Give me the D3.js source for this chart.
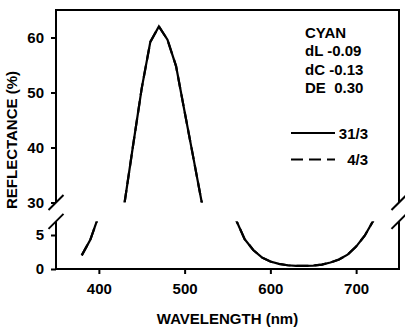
<!DOCTYPE html>
<html>
<head>
<meta charset="utf-8">
<title>Cyan reflectance</title>
<script src="https://d3js.org/d3.v7.min.js"></script>
<style>
  body { margin:0; background:#fff; }
  text { font-family: Arial, "Liberation Sans", sans-serif; font-weight:bold; font-size:15px; fill:#000; }
  .frame { stroke:#000; stroke-width:2px; fill:none; }
  .curve { fill:none; stroke:#000; stroke-width:2.2px; }
</style>
</head>
<body>
<svg width="405" height="333"></svg>
<script>
// data
var wavelengths = [380,390,400,410,420,430,440,450,460,470,480,490,500,510,520,530,540,550,
                   560,570,580,590,600,610,620,630,640,650,660,670,680,690,700,710,720,730];
var refl31 = [2.0,4.3,7.9,12,20,30,40.5,50.8,59.2,62,59.6,54.8,46.5,38.3,30,22,15,10,
              7.2,4.4,2.8,1.7,1.1,0.75,0.55,0.45,0.45,0.5,0.65,0.95,1.4,2.1,3.3,4.9,7.1,10];
var refl4 = [2.0,4.3,7.9,12,20,30,40.5,50.8,59.2,62,59.6,54.8,46.5,38.3,30,22,15,10,
             7.2,4.4,2.8,1.7,1.1,0.75,0.55,0.45,0.45,0.5,0.65,0.95,1.4,2.1,3.3,4.9,7.1,10];
var xTicks = [400,500,600,700];
var yTicksUpper = [30,40,50,60];
var yTicksLower = [0,5];
var notes = ["CYAN","dL -0.09","dC -0.13","DE  0.30"];
var legendLabels = ["31/3","4/3"];

var svg = d3.select("svg");
var L = 56, R = 399;

var x = d3.scaleLinear().domain([350,750]).range([L,R]);
var yU = d3.scaleLinear().domain([30,65]).range([202.5,10]);
var yL = d3.scaleLinear().domain([0,7]).range([269,221.4]);

// clip regions for the two panels
var defs = svg.append("defs");
defs.append("clipPath").attr("id","clipU").append("rect")
  .attr("x",L).attr("y",yU(65)).attr("width",R-L).attr("height",yU(30)-yU(65));
defs.append("clipPath").attr("id","clipL").append("rect")
  .attr("x",L).attr("y",yL(7)).attr("width",R-L).attr("height",yL(0)-yL(7));

var pts4 = wavelengths.map(function(w,i){ return [w, refl4[i]]; });
var pts31 = wavelengths.map(function(w,i){ return [w, refl31[i]]; });

function drawSeries(pts, dash){
  [["clipU",yU],["clipL",yL]].forEach(function(p){
    var line = d3.line().x(function(d){return x(d[0]);}).y(function(d){return p[1](d[1]);});
    svg.append("path").attr("class","curve")
      .attr("clip-path","url(#"+p[0]+")")
      .attr("stroke-dasharray", dash)
      .attr("d", line(pts));
  });
}
drawSeries(pts4, "12,6");
drawSeries(pts31, null);

// frame with broken sides
var frame = [
  [[L,yU(30)],[L,yU(65)],[R,yU(65)],[R,yU(30)]],
  [[L,yL(7)],[L,yL(0)],[R,yL(0)],[R,yL(7)]]
];
svg.selectAll("path.frame").data(frame).enter().append("path")
  .attr("class","frame").attr("d", d3.line());

// break marks
var breaks = [[L,yU(30)],[L,yL(7)],[R,yU(30)],[R,yL(7)]];
svg.selectAll("line.brk").data(breaks).enter().append("line")
  .attr("class","frame")
  .attr("x1",function(d){return d[0]-7.5;}).attr("y1",function(d){return d[1]+7.5;})
  .attr("x2",function(d){return d[0]+7.5;}).attr("y2",function(d){return d[1]-7.5;});

// axes
function styleAxis(g){
  g.select(".domain").remove();
  g.selectAll(".tick line").attr("stroke","#000").attr("stroke-width",2);
  g.selectAll(".tick text").attr("font-family",null).attr("font-size",null);
}
var fmt = d3.format("d");
svg.append("g").attr("transform","translate("+L+",0)")
  .call(d3.axisLeft(yU).tickValues(yTicksUpper).tickFormat(fmt).tickSize(5).tickPadding(7)).call(styleAxis);
svg.append("g").attr("transform","translate("+L+",0)")
  .call(d3.axisLeft(yL).tickValues(yTicksLower).tickFormat(fmt).tickSize(5).tickPadding(7)).call(styleAxis);
svg.append("g").attr("transform","translate(0,"+yL(0)+")")
  .call(d3.axisBottom(x).tickValues(xTicks).tickFormat(fmt).tickSize(5).tickPadding(9)).call(styleAxis);

// axis titles
svg.append("text").attr("x",(L+R)/2).attr("y",324).attr("text-anchor","middle")
  .text("WAVELENGTH (nm)");
svg.append("text").attr("transform","translate(17,140) rotate(-90)").attr("text-anchor","middle")
  .text("REFLECTANCE (%)");

// notes
svg.selectAll("text.note").data(notes).enter().append("text")
  .attr("class","note").attr("x",305)
  .attr("y",function(d,i){return 38 + i*18.3;})
  .attr("xml:space","preserve")
  .text(function(d){return d;});

// legend
var lg = svg.selectAll("g.lg").data(legendLabels).enter().append("g")
  .attr("transform",function(d,i){return "translate(0,"+(133 + i*26.5)+")";});
lg.append("line").attr("x1",291).attr("x2",335).attr("y1",0).attr("y2",0)
  .attr("stroke","#000").attr("stroke-width",2.2)
  .attr("stroke-dasharray",function(d,i){return i ? "12,6" : null;});
lg.append("text").attr("x",368).attr("y",5.5).attr("text-anchor","end")
  .text(function(d){return d;});
</script>
</body>
</html>
